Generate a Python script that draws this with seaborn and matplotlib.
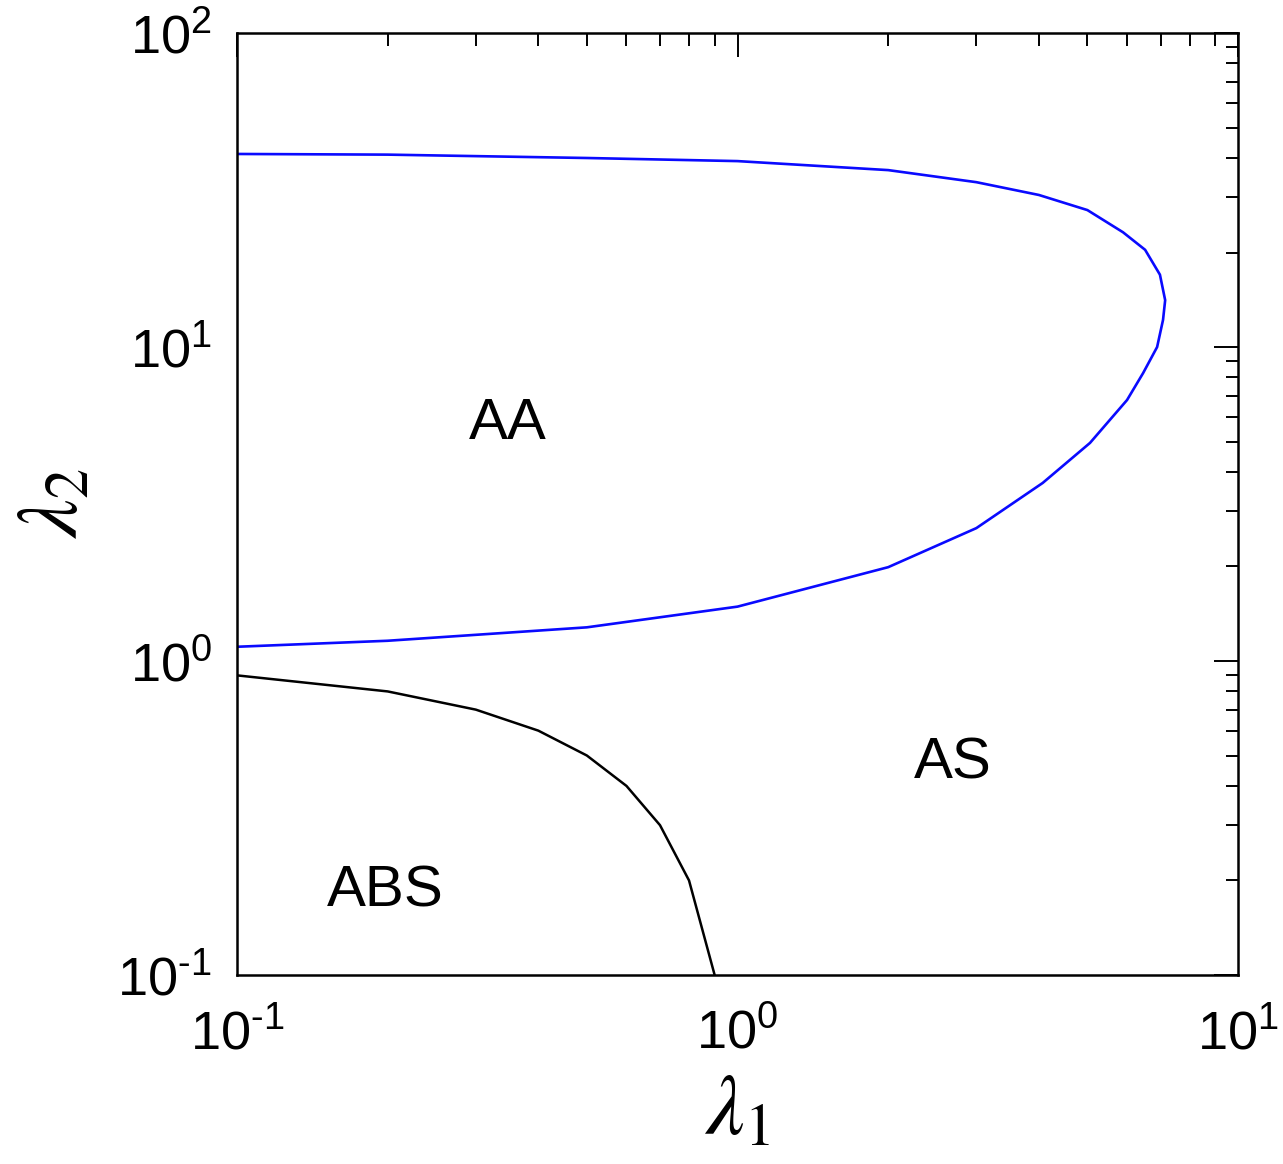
import numpy as np
import seaborn as sns
import matplotlib.pyplot as plt

# boundary AA / AS (blue loop), traced from upper branch round the tip to lower branch
blue_l1 = [0.1, 0.2, 0.5, 1.0, 2.0, 3.0, 4.0, 5.0, 5.89, 6.52, 6.98, 7.15, 7.08, 6.89, 6.46, 6.0, 5.06, 4.07, 3.0, 2.0, 1.0, 0.5, 0.2, 0.1]
blue_l2 = [41.2, 41.0, 40.0, 39.1, 36.6, 33.5, 30.5, 27.3, 23.2, 20.4, 17.0, 14.1, 12.2, 10.0, 8.26, 6.78, 4.95, 3.69, 2.65, 1.99, 1.49, 1.28, 1.16, 1.11]

# boundary ABS / AS (black)
black_l1 = [0.1, 0.2, 0.3, 0.4, 0.5, 0.6, 0.7, 0.8, 0.9]
black_l2 = [0.9, 0.8, 0.7, 0.6, 0.5, 0.4, 0.3, 0.2, 0.1]

regions = ["AA", "AS", "ABS"]
region_l1 = [0.347, 2.69, 0.198]
region_l2 = [5.7, 0.47, 0.185]

sns.set_style("white")
plt.rcParams['font.family'] = ['Liberation Sans', 'DejaVu Sans']
plt.rcParams['mathtext.fontset'] = 'stix'
plt.rcParams['text.color'] = 'black'
plt.rcParams['axes.labelcolor'] = 'black'
plt.rcParams['xtick.color'] = 'black'
plt.rcParams['ytick.color'] = 'black'

fig = plt.figure(figsize=(12.83, 11.64), dpi=100)
ax = fig.add_axes([0.1847, 0.1624, 0.965 - 0.1847, 0.9716 - 0.1624])

sns.lineplot(x=blue_l1, y=blue_l2, sort=False, estimator=None, color="#0a0aff", lw=1.9, ax=ax)
sns.lineplot(x=black_l1, y=black_l2, sort=False, estimator=None, color="black", lw=1.8, ax=ax)

ax.set_xscale("log")
ax.set_yscale("log")
ax.set_xlim(0.1, 10)
ax.set_ylim(0.1, 100)

for name, x, y in zip(regions, region_l1, region_l2):
    ax.text(x, y, name, fontsize=42, ha="center", va="center", color="black")

xt = [0.1, 1, 10]
yt = [0.1, 1, 10, 100]
exps = {0.1: "\u2010" + "1", 1: "0", 10: "1", 100: "2"}
ax.set_xticks(xt)
ax.set_xticklabels([r"$\mathregular{10^{%s}}$" % exps[v] for v in xt])
ax.set_yticks(yt)
ax.set_yticklabels([r"$\mathregular{10^{%s}}$" % exps[v] for v in yt])

ax.tick_params(which="both", direction="in", top=True, right=True, width=1.4)
ax.tick_params(which="major", length=17, labelsize=39, pad=18)
ax.tick_params(which="minor", length=9)
ax.tick_params(axis="x", which="major", pad=24)
for s in ax.spines.values():
    s.set_linewidth(1.8)
    s.set_color("black")

ax.set_xlabel(r"$\lambda_1$", fontsize=62, labelpad=8)
ax.set_ylabel(r"$\lambda_2$", fontsize=62, labelpad=16)

fig.savefig("out.png", dpi=100, facecolor="white")
